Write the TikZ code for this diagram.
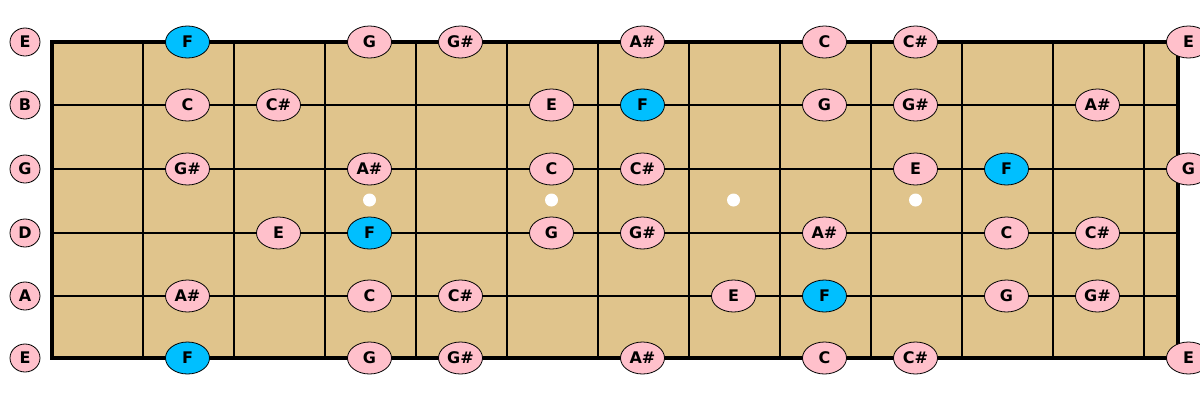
\documentclass[tikz,border=0pt]{standalone}
\usepackage{fontspec}
\setmainfont{DejaVu Sans}
\usetikzlibrary{shapes.geometric}

\definecolor{boardtan}{RGB}{224,196,140}
\definecolor{notepink}{RGB}{255,192,203}
\definecolor{rootblue}{RGB}{0,191,255}

\tikzset{
  note/.style={draw, ellipse, fill=notepink, minimum width=44pt, minimum height=32pt,
    inner sep=0pt, line width=0.8pt, font=\fontsize{16}{16}\selectfont\bfseries},
  root/.style={note, fill=rootblue},
  openstr/.style={note, minimum width=30pt, minimum height=28pt},
  fretline/.style={line width=2pt},
  border/.style={line width=4pt},
  inlay/.style={circle, fill=white, minimum size=13pt, inner sep=0pt},
}

\begin{document}
\begin{tikzpicture}[x=1pt, y=-1pt]
    \useasboundingbox (0,0) rectangle (1200,400);

    % board, frets and strings
    \fill[boardtan] (52,42) rectangle (1178,358);
    \foreach \k in {1,...,12} \draw[fretline] (52+91*\k,42) -- (52+91*\k,358);
    \foreach \y in {105,169,233,296} \draw[fretline] (52,\y) -- (1178,\y);
    \draw[border] (52,42) rectangle (1178,358);

    % fret markers
    \foreach \k in {3,5,7,9} \node[inlay] (dot\k) at (96.5+91*\k,200) {};

    % string names
    \node[openstr] (s1) at (25,42) {E};
    \node[openstr] (s2) at (25,105) {B};
    \node[openstr] (s3) at (25,169) {G};
    \node[openstr] (s4) at (25,233) {D};
    \node[openstr] (s5) at (25,296) {A};
    \node[openstr] (s6) at (25,358) {E};

    % high E
    \node[root] (s1f1) at (96.5+91,42) {F};
    \foreach \k/\t in {3/G, 4/G\#, 6/A\#, 8/C, 9/C\#, 12/E}
        \node[note] (s1f\k) at (96.5+91*\k,42) {\t};

    % B
    \node[root] (s2f6) at (96.5+91*6,105) {F};
    \foreach \k/\t in {1/C, 2/C\#, 5/E, 8/G, 9/G\#, 11/A\#}
        \node[note] (s2f\k) at (96.5+91*\k,105) {\t};

    % G
    \node[root] (s3f10) at (96.5+91*10,169) {F};
    \foreach \k/\t in {1/G\#, 3/A\#, 5/C, 6/C\#, 9/E, 12/G}
        \node[note] (s3f\k) at (96.5+91*\k,169) {\t};

    % D
    \node[root] (s4f3) at (96.5+91*3,233) {F};
    \foreach \k/\t in {2/E, 5/G, 6/G\#, 8/A\#, 10/C, 11/C\#}
        \node[note] (s4f\k) at (96.5+91*\k,233) {\t};

    % A
    \node[root] (s5f8) at (96.5+91*8,296) {F};
    \foreach \k/\t in {1/A\#, 3/C, 4/C\#, 7/E, 10/G, 11/G\#}
        \node[note] (s5f\k) at (96.5+91*\k,296) {\t};

    % low E
    \node[root] (s6f1) at (96.5+91,358) {F};
    \foreach \k/\t in {3/G, 4/G\#, 6/A\#, 8/C, 9/C\#, 12/E}
        \node[note] (s6f\k) at (96.5+91*\k,358) {\t};
\end{tikzpicture}
\end{document}
